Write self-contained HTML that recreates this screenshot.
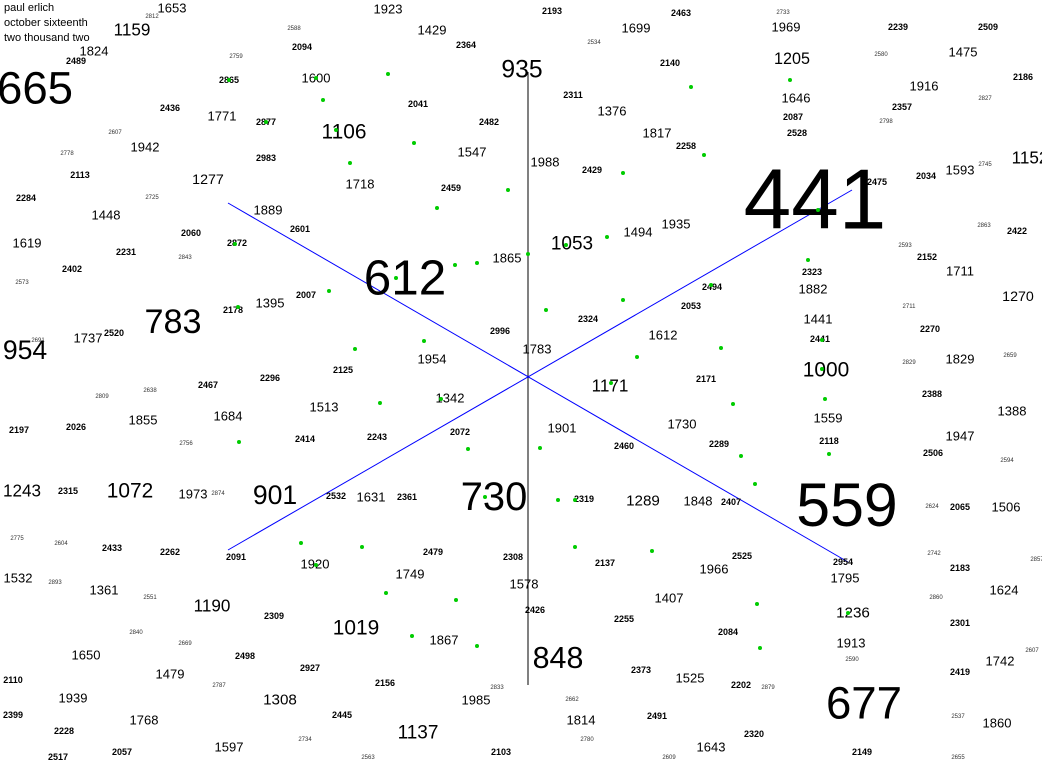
<!DOCTYPE html>
<html><head><meta charset="utf-8"><style>
body{margin:0;background:#fff}
svg{display:block;font-family:"Liberation Sans",sans-serif}
</style></head><body>
<svg id="c" width="1042" height="767">
<text x="4" y="11" font-size="11">paul erlich</text>
<text x="4" y="26" font-size="11">october sixteenth</text>
<text x="4" y="41" font-size="11">two thousand two</text>
<line x1="528" y1="72" x2="528" y2="685" stroke="#000" stroke-width="1"/>
<line x1="228" y1="203" x2="848" y2="562" stroke="#00f" stroke-width="1"/>
<line x1="228" y1="550" x2="852" y2="190" stroke="#00f" stroke-width="1"/>
</svg>
<script>
const big=[["665",35,88,48],["441",815,200,90],["612",405,278,52],["559",847,505,64],["677",864,703,48],["730",494,497,42],["935",522,70,26],["848",558,658,32],["783",173,322,36],["954",25,350,28],["1106",344,132,22],["1053",572,244,20],["1000",826,370,22],["1171",610,386,18],["901",275,495,28],["1072",130,491,22],["1243",22,491,18],["1019",356,628,22],["1190",212,606,18],["1137",418,733,20],["1308",280,700,16],["1236",853,613,16],["1270",1018,297,15],["1152",1030,158,18],["1205",792,59,17],["1159",132,30,18],["1277",208,180,15],["1289",643,501,16]];
const mid=[["1429",432,30],["1699",636,28],["1475",963,52],["1376",612,111],["1600",316,78],["1771",222,116],["1448",106,215],["1619",27,243],["1395",270,303],["1513",324,407],["1684",228,416],["1342",450,398],["1865",507,258],["1494",638,232],["1441",818,319],["1593",960,170],["1711",960,271],["1829",960,359],["1559",828,418],["1388",1012,411],["1506",1006,507],["1624",1004,590],["1742",1000,661],["1860",997,723],["1532",18,578],["1361",104,590],["1650",86,655],["1479",170,674],["1597",229,747],["1768",144,720],["1643",711,747],["1525",690,678],["1407",669,598],["1578",524,584],["1749",410,574],["1612",663,335],["1730",682,424],["1646",796,98],["1547",472,152],["1817",657,133],["1718",360,184],["1631",371,497],["1653",172,8],["1824",94,51],["1942",145,147],["1737",88,338],["1855",143,420],["1973",193,494],["1920",315,564],["1985",476,700],["1814",581,720],["1966",714,569],["1913",851,643],["1795",845,578],["1901",562,428],["1954",432,359],["1783",537,349],["1882",813,289],["1935",676,224],["1988",545,162],["1916",924,86],["1969",786,27],["1923",388,9],["1889",268,210],["1848",698,501],["1947",960,436],["1939",73,698],["1867",444,640]];
const small=[["2193",552,11],["2463",681,13],["2239",898,27],["2509",988,27],["2094",302,47],["2364",466,45],["2140",670,63],["2186",1023,77],["2436",170,108],["2041",418,104],["2482",489,122],["2311",573,95],["2087",793,117],["2357",902,107],["2113",80,175],["2258",686,146],["2983",266,158],["2459",451,188],["2429",592,170],["2475",877,182],["2034",926,176],["2601",300,229],["2284",26,198],["2060",191,233],["2422",1017,231],["2231",126,252],["2402",72,269],["2152",927,257],["2323",812,272],["2494",712,287],["2007",306,295],["2053",691,306],["2520",114,333],["2324",588,319],["2996",500,331],["2270",930,329],["2125",343,370],["2441",820,339],["2171",706,379],["2467",208,385],["2296",270,378],["2388",932,394],["2026",76,427],["2197",19,430],["2118",829,441],["2506",933,453],["2414",305,439],["2243",377,437],["2072",460,432],["2289",719,444],["2460",624,446],["2315",68,491],["2532",336,496],["2361",407,497],["2319",584,499],["2407",731,502],["2065",960,507],["2433",112,548],["2262",170,552],["2091",236,557],["2479",433,552],["2308",513,557],["2137",605,563],["2525",742,556],["2183",960,568],["2954",843,562],["2426",535,610],["2255",624,619],["2084",728,632],["2301",960,623],["2309",274,616],["2498",245,656],["2927",310,668],["2156",385,683],["2373",641,670],["2202",741,685],["2419",960,672],["2110",13,680],["2399",13,715],["2228",64,731],["2445",342,715],["2491",657,716],["2320",754,734],["2057",122,752],["2517",58,757],["2103",501,752],["2149",862,752],["2489",76,61],["2528",797,133],["2865",229,80],["2877",266,122],["2872",237,243],["2178",233,310]];
const tiny=[["2812",152,17],["2588",294,29],["2759",236,57],["2607",115,133],["2778",67,154],["2725",152,198],["2843",185,258],["2573",22,283],["2691",38,341],["2809",102,397],["2638",150,391],["2756",186,444],["2874",218,494],["2775",17,539],["2604",61,544],["2893",55,583],["2551",150,598],["2840",136,633],["2669",185,644],["2787",219,686],["2734",305,740],["2563",368,758],["2833",497,688],["2662",572,700],["2780",587,740],["2609",669,758],["2879",768,688],["2590",852,660],["2537",958,717],["2655",958,758],["2860",936,598],["2742",934,554],["2624",932,507],["2594",1007,461],["2829",909,363],["2711",909,307],["2593",905,246],["2863",984,226],["2745",985,165],["2798",886,122],["2580",881,55],["2827",985,99],["2733",783,13],["2534",594,43],["2659",1010,356],["2607",1032,651],["2857",1037,560]];
const green=[[396,278],[566,245],[485,497],[822,369],[848,613],[818,210],[336,130],[316,78],[238,307],[235,244],[266,122],[229,80],[388,74],[323,100],[414,143],[350,163],[437,208],[508,190],[623,173],[704,155],[691,87],[790,80],[455,265],[477,263],[528,254],[546,310],[623,300],[607,237],[637,357],[721,348],[711,285],[808,260],[822,340],[825,399],[829,454],[741,456],[733,404],[540,448],[468,449],[380,403],[239,442],[355,349],[424,341],[329,291],[575,500],[558,500],[652,551],[575,547],[757,604],[760,648],[755,484],[456,600],[477,646],[412,636],[386,593],[362,547],[301,543],[316,565],[611,383],[441,399]];
const svg=document.getElementById('c');
const NS='http://www.w3.org/2000/svg';
function txt(a,fs,w,col,name){
  const t=document.createElementNS(NS,'text');
  t.setAttribute('x',a[1]);t.setAttribute('y',a[2]);
  t.setAttribute('font-size',fs);t.setAttribute('text-anchor','middle');
  t.setAttribute('dominant-baseline','central');t.setAttribute('fill',col);
  if(w)t.setAttribute('font-weight','bold');
  t.textContent=a[0];
  
  
  svg.appendChild(t);
}
tiny.forEach(a=>txt(a,6,false,'#333','tiny-node-label'));
small.forEach(a=>txt(a,9,true,'#000','small-node-label'));
mid.forEach(a=>txt(a,13,false,'#000','node-label'));
big.forEach(a=>txt(a,a[3]*0.95,false,'#000','large-node-label'));
green.forEach(g=>{
  const c=document.createElementNS(NS,'circle');
  c.setAttribute('cx',g[0]);c.setAttribute('cy',g[1]);c.setAttribute('r',2);
  c.setAttribute('fill','#0c0');
  
  
  svg.appendChild(c);
});
</script>
</body></html>
